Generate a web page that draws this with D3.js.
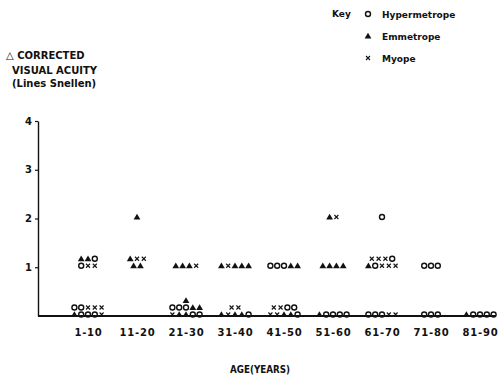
<!DOCTYPE html>
<html>
<head>
<meta charset="utf-8">
<script src="https://cdn.jsdelivr.net/npm/d3@7"></script>
<style>
  body { margin: 0; background: #fff; }
  text { font-family: "DejaVu Sans", sans-serif; font-weight: bold; fill: #111; }
</style>
</head>
<body>
<div id="chart"></div>
<script>
// age groups along the x axis
const groups = ["1-10", "11-20", "21-30", "31-40", "41-50", "51-60", "61-70", "71-80", "81-90"];
const yTicks = [1, 2, 3, 4];

// key: o = Hypermetrope, ^ = Emmetrope, x = Myope
const seriesNames = ["Hypermetrope", "Emmetrope", "Myope"];
const seriesCodes = ["o", "^", "x"];

// each row of symbols: group, change in lines Snellen, stacking row, symbols left to right
const rowGroup = ["1-10", "1-10", "1-10", "1-10",
                  "11-20", "11-20", "11-20",
                  "21-30", "21-30", "21-30", "21-30",
                  "31-40", "31-40", "31-40",
                  "41-50", "41-50", "41-50",
                  "51-60", "51-60", "51-60",
                  "61-70", "61-70", "61-70", "61-70",
                  "71-80", "71-80",
                  "81-90"];
const rowValue = [1, 1, 0, 0,
                  2, 1, 1,
                  1, 0, 0, 0,
                  1, 0, 0,
                  1, 0, 0,
                  2, 1, 0,
                  2, 1, 1, 0,
                  1, 0,
                  0];
const rowStack = [1, 0, 1, 0,
                  0, 1, 0,
                  0, 2, 1, 0,
                  0, 1, 0,
                  0, 1, 0,
                  0, 0, 0,
                  0, 1, 0, 0,
                  0, 0,
                  0];
const rowMarks = ["^^o", "oxx", "ooxxx", "^ooox",
                  "^", "^xx", "^^",
                  "^^^x", "^", "ooo^^", "x^^oo",
                  "^x^^^", "xx", "^x^^o",
                  "ooo^^", "xxoo", "xx^^o",
                  "^x", "^^^^", "^oooo",
                  "o", "xxxo", "^oxxx", "oooxx",
                  "ooo", "ooo",
                  "^oooo"];

const width = 498, height = 377;
const svg = d3.select("#chart").append("svg")
  .attr("width", width).attr("height", height);

const x = d3.scalePoint().domain(groups).range([88, 480]);
const y = d3.scaleLinear().domain([0, 4]).range([316, 121]);

// y axis
const yAxis = svg.append("g")
  .attr("transform", "translate(38,0)")
  .call(d3.axisLeft(y).tickValues(yTicks).tickFormat(d3.format("d"))
    .tickSize(3).tickSizeOuter(0).tickPadding(3));
yAxis.select(".domain").attr("stroke", "#111").attr("stroke-width", 1.4);
yAxis.selectAll(".tick line").attr("stroke", "#111").attr("stroke-width", 1.2);
yAxis.selectAll(".tick text").style("font-size", "10px").style("font-family", "DejaVu Sans").style("font-weight", "bold").attr("fill", "#111");

// x axis line
svg.append("line")
  .attr("x1", 38).attr("x2", 496).attr("y1", y(0)).attr("y2", y(0))
  .attr("stroke", "#111").attr("stroke-width", 1.8);

const xAxis = svg.append("g")
  .attr("transform", `translate(0,${y(0)})`)
  .call(d3.axisBottom(x).tickSize(0).tickPadding(13));
xAxis.select(".domain").remove();
xAxis.selectAll(".tick text").style("font-size", "10px").style("font-family", "DejaVu Sans")
  .style("font-weight", "bold").style("letter-spacing", "0.8px").attr("fill", "#111");

// symbol painter
function drawMark(g, code, cx, cy) {
  if (code === "o") {
    g.append("circle").attr("cx", cx).attr("cy", cy).attr("r", 2.5)
      .attr("fill", "none").attr("stroke", "#111").attr("stroke-width", 1.4);
  } else if (code === "^") {
    g.append("path").attr("d", d3.symbol().type(d3.symbolTriangle).size(20)())
      .attr("transform", `translate(${cx},${cy + 0.6})`).attr("fill", "#111");
  } else {
    const s = 2;
    g.append("path").attr("d", `M${cx - s},${cy - s}L${cx + s},${cy + s}M${cx - s},${cy + s}L${cx + s},${cy - s}`)
      .attr("stroke", "#111").attr("stroke-width", 1.1).attr("fill", "none");
  }
}

const step = 6.8, stackGap = 7;
const marks = svg.append("g");
rowMarks.forEach((str, r) => {
  const chars = str.split("");
  const cx0 = x(rowGroup[r]);
  const cy = y(rowValue[r]) - 1.5 - rowStack[r] * stackGap;
  chars.forEach((c, i) => {
    drawMark(marks, c, cx0 + (i - (chars.length - 1) / 2) * step, cy);
  });
});

// y axis title
const title = svg.append("g").style("font-size", "10px");
title.append("text").attr("x", 6).attr("y", 59).text("△ CORRECTED");
title.append("text").attr("x", 12).attr("y", 74).text("VISUAL ACUITY");
title.append("text").attr("x", 12).attr("y", 87).text("(Lines Snellen)");

// x axis title
svg.append("text").attr("x", 260).attr("y", 373).attr("text-anchor", "middle")
  .style("font-size", "10px").attr("textLength", 60).attr("lengthAdjust", "spacingAndGlyphs")
  .text("AGE(YEARS)");

// key
svg.append("text").attr("x", 332).attr("y", 17).style("font-size", "9px").text("Key");
const key = svg.append("g");
seriesNames.forEach((name, i) => {
  const ky = 14 + i * 22;
  drawMark(key, seriesCodes[i], 368, ky);
  key.append("text").attr("x", 382).attr("y", ky + 3.5).style("font-size", "9px").text(name);
});
</script>
</body>
</html>
